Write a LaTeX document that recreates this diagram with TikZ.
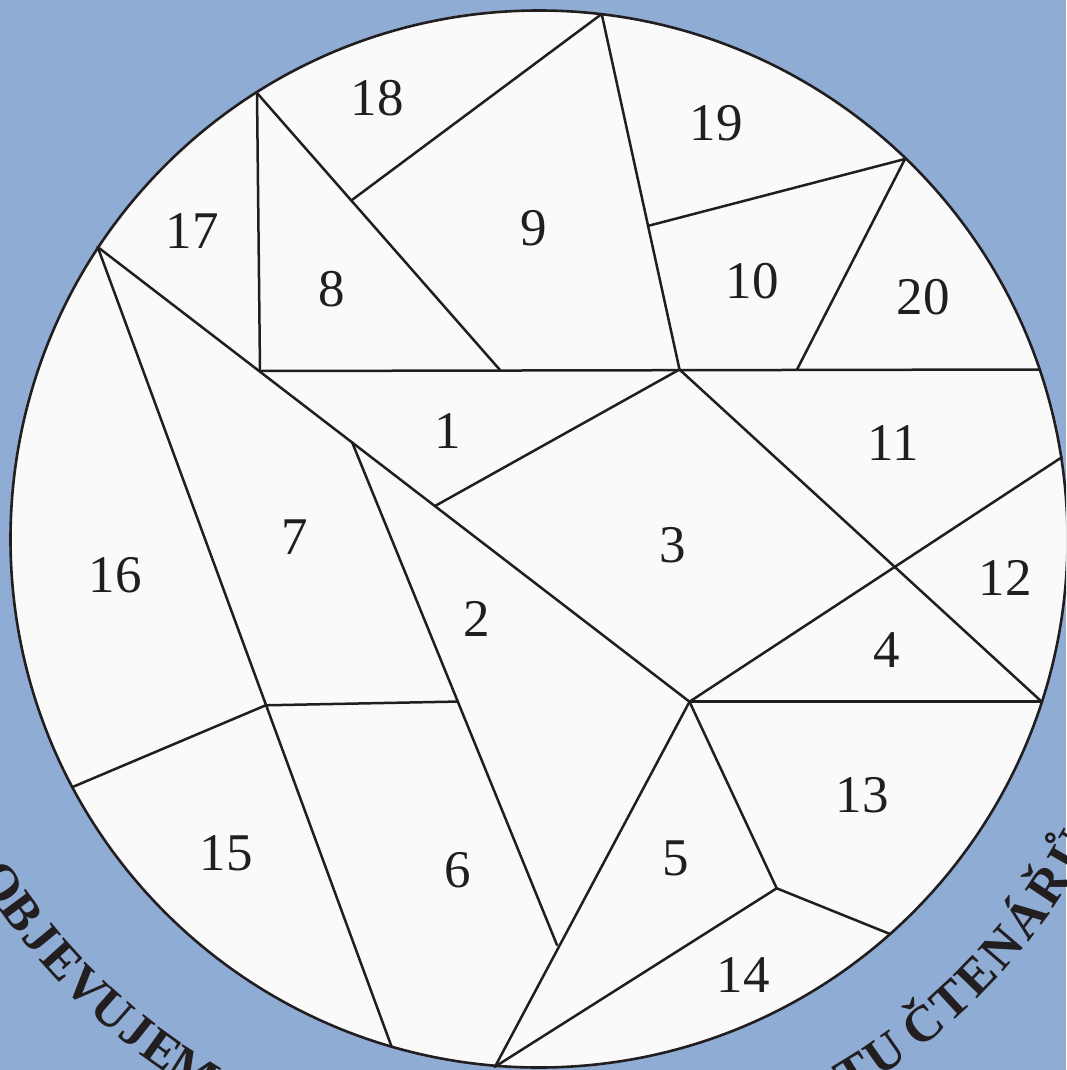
\documentclass[tikz,border=0pt]{standalone}
\usepackage{fontspec}
\setmainfont{Liberation Serif}
\usetikzlibrary{calc}
\definecolor{bgblue}{RGB}{143,172,212}
\definecolor{ink}{RGB}{34,30,31}
\definecolor{paper}{RGB}{250,250,250}
\begin{document}
\begin{tikzpicture}[x=1pt,y=-1pt,
  edge/.style={draw=ink,line width=2.5pt,line cap=round,line join=round},
  num/.style={text=ink,inner sep=0pt,font=\fontsize{53}{53}\selectfont},
  ring/.style={text=ink,inner sep=0pt,anchor=base,font=\fontsize{51}{51}\selectfont\bfseries}]
\useasboundingbox (0,0) rectangle (1066,1070);
\clip (0,0) rectangle (1066,1070);
\fill[bgblue] (0,0) rectangle (1066,1070);
\coordinate (O) at (539,539);
\coordinate (TC) at (526,539);
\fill[paper] (O) circle (528.5pt);
% vertices
\coordinate (A) at (97.7,247);
\coordinate (T18) at (257,93);
\coordinate (C8) at (260,371);
\coordinate (Top) at (601.7,14);
\coordinate (D8) at (500,370);
\coordinate (Hub) at (679.5,369.5);
\coordinate (P1920) at (905,159);
\coordinate (P20) at (797,369.5);
\coordinate (R1) at (1040,369.5);
\coordinate (P7) at (352,442);
\coordinate (P13) at (435,506);
\coordinate (H) at (689.5,701.7);
\coordinate (R2) at (1061.7,457.3);
\coordinate (R3) at (1041.7,701.7);
\coordinate (B) at (265.7,705.3);
\coordinate (L) at (73.3,786.7);
\coordinate (J) at (557,945);
\coordinate (P6) at ($(P7)!0.516!(J)$);
\coordinate (Bot1) at (391.7,1047);
\coordinate (Bot) at (495,1066.7);
\coordinate (V5) at (776.7,888.3);
\coordinate (R4) at (890,934);
\coordinate (P9a) at ($(T18)!0.388!(D8)$);
\coordinate (P19) at ($(Top)!0.596!(Hub)$);
% edges
\draw[edge] (A) -- (H);
\draw[edge] (A) -- (Bot1);
\draw[edge] (B) -- (L);
\draw[edge] (B) -- (P6);
\draw[edge] (P7) -- (J);
\draw[edge] (H) -- (Bot);
\draw[edge] (H) -- (V5) -- (R4);
\draw[edge] (Bot) -- (V5);
\draw[edge] (H) -- (R3);
\draw[edge] (H) -- (R2);
\draw[edge] (Hub) -- (R3);
\draw[edge] (P13) -- (Hub);
\draw[edge] (C8) -- (R1);
\draw[edge] (T18) -- (C8);
\draw[edge] (T18) -- (D8);
\draw[edge] (P9a) -- (Top);
\draw[edge] (Top) -- (Hub);
\draw[edge] (P19) -- (P1920);
\draw[edge] (P1920) -- (P20);
\draw[draw=ink,line width=2.6pt] (O) circle (528.5pt);
% numbers
\node[num] (n1) at (448,431) {1};
\node[num] (n2) at (477,619) {2};
\node[num] (n3) at (673,545) {3};
\node[num] (n4) at (887,650) {4};
\node[num] (n5) at (676,858) {5};
\node[num] (n6) at (458,870) {6};
\node[num] (n7) at (295,537) {7};
\node[num] (n8) at (332,289) {8};
\node[num] (n9) at (534,228) {9};
\node[num] (n10) at (752,281) {10};
\node[num] (n11) at (893,443) {11};
\node[num] (n12) at (1005,578) {12};
\node[num] (n13) at (862,795) {13};
\node[num] (n14) at (743,975) {14};
\node[num] (n15) at (226,853) {15};
\node[num] (n16) at (115,575) {16};
\node[num] (n17) at (192,231) {17};
\node[num] (n18) at (377,98) {18};
\node[num] (n19) at (716,123) {19};
\node[num] (n20) at (923,297) {20};
% ring text
\foreach \ang/\ch [count=\i] in {213.2/O,216.5/B,219.4/J,222.3/E,225.5/V,228.7/U,231.6/J,234.5/E,238.0/M,
  301.6/T,304.9/U,309.3/Č,312.6/T,315.9/E,319.4/N,322.9/Á,326.5/Ř,330.2/Ů}
  \node[ring,rotate=\ang+90] (t\i) at ($(TC)+(\ang:644pt)$) {\ch};
\end{tikzpicture}
\end{document}
